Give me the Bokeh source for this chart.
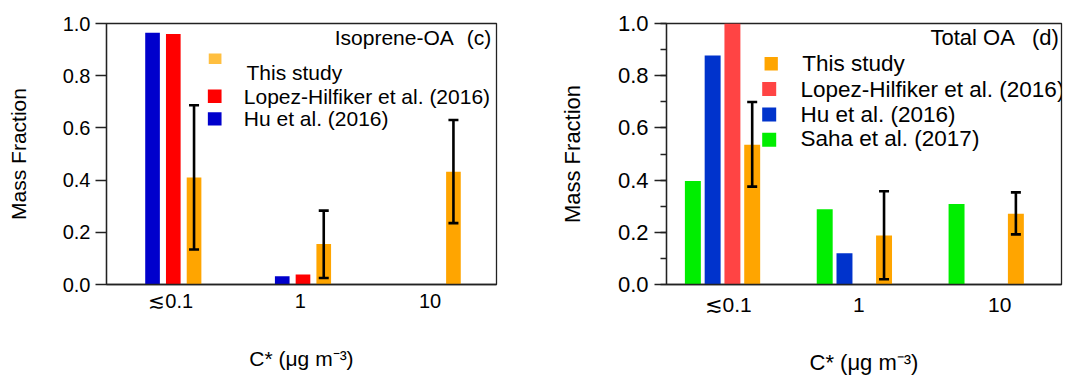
import math
from bokeh.plotting import figure
from bokeh.models import (Range1d, FixedTicker, SingleIntervalTicker, Label, Whisker,
                          TeeHead, ColumnDataSource, PrintfTickFormatter)
from bokeh.layouts import row
from bokeh.embed import file_html
from bokeh.resources import INLINE

NaN = float("nan")

# ---------------- data ----------------
categories = ["≲0.1", "1", "10"]

# panel (c) Isoprene-OA
iso_this = [0.410, 0.155, 0.432]
iso_this_lo = [0.134, 0.025, 0.235]
iso_this_hi = [0.687, 0.283, 0.630]
iso_lopez = [0.960, 0.038, NaN]
iso_hu = [0.965, 0.032, NaN]

# panel (d) Total OA
tot_this = [0.535, 0.188, 0.271]
tot_this_lo = [0.375, 0.020, 0.192]
tot_this_hi = [0.699, 0.357, 0.353]
tot_lopez = [1.000, NaN, NaN]
tot_hu = [0.877, 0.120, NaN]
tot_saha = [0.397, 0.288, 0.308]

legend_c = ["This study", "Lopez-Hilfiker et al. (2016)", "Hu et al. (2016)"]
legend_d = ["This study", "Lopez-Hilfiker et al. (2016)", "Hu et al. (2016)", "Saha et al. (2017)"]
x_title = "C* (μg m⁻³)"
y_title = "Mass Fraction"

FONT = "Liberation Sans"
AX = "#222222"

# ---------------- geometry helpers ----------------
class Geo:
    def __init__(self, off, fl, fw, ft, fh, x0, x1):
        self.off, self.fl, self.fw, self.ft, self.fh, self.x0, self.x1 = off, fl, fw, ft, fh, x0, x1

    def d(self, px, py):
        x = self.x0 + (px - self.off - self.fl) / self.fw * (self.x1 - self.x0)
        y = (self.ft + self.fh - py) / self.fh
        return x, y


def make_fig(width, geo, tick_font, minor):
    p = figure(width=width, height=377,
               x_range=Range1d(geo.x0, geo.x1), y_range=Range1d(0, 1.0),
               output_backend="svg", toolbar_location=None,
               min_border_left=geo.fl, min_border_right=width - geo.fl - geo.fw,
               min_border_top=geo.ft, min_border_bottom=377 - geo.ft - geo.fh)
    p.xgrid.visible = False
    p.ygrid.visible = False
    p.outline_line_color = AX
    p.outline_line_width = 1.3
    p.background_fill_color = "white"
    p.border_fill_color = "white"
    ya = p.yaxis[0]
    ya.ticker = SingleIntervalTicker(interval=0.2, num_minor_ticks=2 if minor else 0)
    ya.formatter = PrintfTickFormatter(format="%.1f")
    ya.axis_line_color = AX
    ya.axis_line_width = 1.3
    ya.major_tick_line_color = AX
    ya.major_tick_line_width = 1.3
    ya.major_tick_in = 0
    ya.major_tick_out = 11
    ya.minor_tick_in = 0
    ya.minor_tick_out = 6
    ya.minor_tick_line_color = AX if minor else None
    ya.minor_tick_line_width = 1.3
    ya.major_label_text_font = FONT
    ya.major_label_text_font_size = tick_font
    ya.major_label_text_color = "black"
    ya.major_label_standoff = 5
    ya.axis_label = y_title
    ya.axis_label_text_font = FONT
    ya.axis_label_text_font_style = "normal"
    ya.axis_label_text_color = "black"
    xa = p.xaxis[0]
    xa.axis_line_color = AX
    xa.axis_line_width = 1.3
    xa.major_tick_out = 0
    xa.major_tick_in = 0
    xa.minor_tick_line_color = None
    xa.major_label_text_font = FONT
    xa.major_label_text_color = "black"
    xa.axis_label = x_title
    xa.axis_label_text_font = FONT
    xa.axis_label_text_font_style = "normal"
    xa.axis_label_text_color = "black"
    return p


def text(p, geo, px, py, s, size, align="left"):
    x, y = geo.d(px, py)
    p.add_layout(Label(x=x, y=y, text=s, text_font=FONT, text_font_size=size,
                       text_align=align, text_baseline="middle", text_color="black"))


def swatch(p, geo, px, py, w, h, color):
    x, y = geo.d(px, py)
    p.rect(x=[x], y=[y], width=w, height=h, width_units="screen", height_units="screen",
           fill_color=color, line_color=None)


def whisker(p, xs, lo, hi):
    src = ColumnDataSource(dict(x=xs, lo=lo, hi=hi))
    p.add_layout(Whisker(source=src, base="x", lower="lo", upper="hi", line_width=2.6,
                         line_color="black", level="overlay",
                         upper_head=TeeHead(size=10, line_width=2.6, line_color="black"),
                         lower_head=TeeHead(size=10, line_width=2.6, line_color="black")))


idx = [1, 2, 3]

# ---------------- panel (c) ----------------
gc = Geo(0, 106, 390, 23, 268, 0.485, 3.492)
pc = make_fig(535, gc, "20px", minor=False)
pc.yaxis[0].axis_label_text_font_size = "21px"
pc.yaxis[0].axis_label_standoff = 30
pc.xaxis[0].axis_label_text_font_size = "21px"
pc.xaxis[0].axis_label_standoff = 32
tick_c = [i - 0.02 for i in idx]
pc.xaxis[0].ticker = FixedTicker(ticks=tick_c)
pc.xaxis[0].major_label_overrides = {t: c for t, c in zip(tick_c, categories)}
pc.xaxis[0].major_label_text_font_size = "20px"
pc.xaxis[0].major_label_standoff = 5

wc, sc = 0.113, 0.160
c_blue, c_red, c_orange = "#0000CC", "#FF0000", "#FFA500"
pc.vbar(x=[i - sc for i in idx], top=iso_hu, width=wc, fill_color=c_blue, line_color=None)
pc.vbar(x=[i for i in idx], top=iso_lopez, width=wc, fill_color=c_red, line_color=None)
pc.vbar(x=[i + sc for i in idx], top=iso_this, width=wc, fill_color=c_orange, line_color=None)
whisker(pc, [i + sc for i in idx], iso_this_lo, iso_this_hi)

text(pc, gc, 453.3, 37, "Isoprene-OA", "21px", "right")
text(pc, gc, 490.7, 37, "(c)", "21px", "right")
swatch(pc, gc, 214.6, 59.2, 12.7, 10.3, "#FFBF40")
swatch(pc, gc, 214.2, 97.7, 13.7, 13.3, c_red)
swatch(pc, gc, 214.2, 121.0, 13.7, 13.3, c_blue)
text(pc, gc, 246.0, 73.3, legend_c[0], "21px")
text(pc, gc, 243.3, 97.7, legend_c[1], "21px")
text(pc, gc, 243.3, 120.7, legend_c[2], "21px")

# ---------------- panel (d) ----------------
gd = Geo(535, 131, 395, 21, 264, 0.575, 3.571)
pd_ = make_fig(533, gd, "22px", minor=True)
pd_.yaxis[0].axis_label_text_font_size = "22px"
pd_.yaxis[0].axis_label_standoff = 30
pd_.yaxis[0].major_tick_out = 12
pd_.yaxis[0].major_label_standoff = 6
pd_.xaxis[0].axis_label_text_font_size = "22px"
pd_.xaxis[0].axis_label_standoff = 31
tick_d = [1.043, 2.034, 3.102]
pd_.xaxis[0].ticker = FixedTicker(ticks=tick_d)
pd_.xaxis[0].major_label_overrides = {t: c for t, c in zip(tick_d, categories)}
pd_.xaxis[0].major_label_text_font_size = "21px"
pd_.xaxis[0].major_label_standoff = 8

wd, sd = 0.121, 0.150
d_green, d_blue, d_red, d_orange = "#00EE00", "#0033CC", "#FF4444", "#FFA500"
pd_.vbar(x=[i - 1.5 * sd for i in idx], top=tot_saha, width=wd, fill_color=d_green, line_color=None)
pd_.vbar(x=[i - 0.5 * sd for i in idx], top=tot_hu, width=wd, fill_color=d_blue, line_color=None)
pd_.vbar(x=[i + 0.5 * sd for i in idx], top=tot_lopez, width=wd, fill_color=d_red, line_color=None)
pd_.vbar(x=[i + 1.5 * sd for i in idx], top=tot_this, width=wd, fill_color=d_orange, line_color=None)
whisker(pd_, [i + 1.5 * sd for i in idx], tot_this_lo, tot_this_hi)

text(pd_, gd, 1014.3, 35, "Total OA", "22px", "right")
text(pd_, gd, 1058.3, 35, "(d)", "22px", "right")
swatch(pd_, gd, 770.7, 61.7, 13.3, 13.3, d_orange)
swatch(pd_, gd, 768.7, 87.2, 14, 14, d_red)
swatch(pd_, gd, 768.7, 113.0, 14, 14, d_blue)
swatch(pd_, gd, 768.7, 138.7, 14, 14, d_green)
text(pd_, gd, 801.7, 61.7, legend_d[0], "22.5px")
text(pd_, gd, 800.0, 87.3, legend_d[1], "22.5px")
text(pd_, gd, 800.0, 112.7, legend_d[2], "22.5px")
text(pd_, gd, 800.0, 137.7, legend_d[3], "22.5px")

layout = row(pc, pd_)
open("out.html", "w").write(file_html(layout, INLINE))
